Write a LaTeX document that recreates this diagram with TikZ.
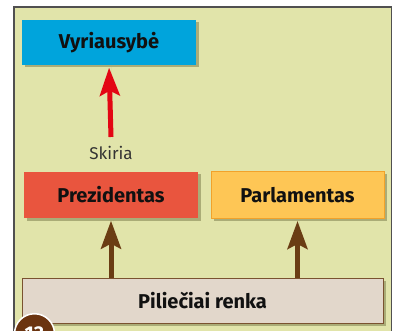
\documentclass[tikz,border=0pt]{standalone}
\usepackage{fontspec}
\setmainfont{Fira Sans}
\usetikzlibrary{arrows.meta,shadows}
\definecolor{framebg}{HTML}{E1E4AA}
\definecolor{framedraw}{HTML}{505050}
\definecolor{vyfill}{HTML}{00A4DC}
\definecolor{prfill}{HTML}{E9553E}
\definecolor{pafill}{HTML}{FEC655}
\definecolor{padraw}{HTML}{F2A22A}
\definecolor{pifill}{HTML}{E2D7CB}
\definecolor{pidraw}{HTML}{7A5230}
\definecolor{shadowc}{HTML}{7E7F4E}
\definecolor{arrred}{HTML}{E30613}
\definecolor{arrbrown}{HTML}{6A3D14}
\definecolor{circbrown}{HTML}{6B3410}
\definecolor{txt}{HTML}{111111}
\tikzset{
  box/.style={rectangle, inner sep=0pt, font=\fontsize{20}{24}\selectfont\bfseries, text=txt,
    drop shadow={shadow xshift=2.5pt, shadow yshift=-2.5pt, fill=shadowc, opacity=0.55}},
  uparrow/.style={line width=5pt, -{Stealth[width=20pt,length=28pt,inset=5pt]}, shorten >=2.5pt,
    drop shadow={shadow xshift=2pt, shadow yshift=-2pt, fill=shadowc, opacity=0.4}},
}
\begin{document}
\begin{tikzpicture}[x=1pt,y=-1pt]
\useasboundingbox (0,0) rectangle (396,331);
\clip (0,0) rectangle (396,331);
\fill[white] (0,0) rectangle (396,331);
\draw[fill=framebg, draw=framedraw, line width=1.6pt] (14,7) rectangle (391.5,345);
\node[box, fill=vyfill, minimum width=174pt, minimum height=45pt] (vy) at (109,42.5) {Vyriausybė};
\node[box, fill=prfill, minimum width=174pt, minimum height=46pt] (pr) at (111,195) {Prezidentas};
\node[box, fill=pafill, draw=padraw, line width=1pt, minimum width=173pt, minimum height=46pt] (pa) at (297.5,195) {Parlamentas};
\node[box, fill=pifill, draw=pidraw, line width=1pt, minimum width=361pt, minimum height=45pt] (pi) at (202.5,300.5) {Piliečiai renka};
\node[font=\fontsize{17}{20}\selectfont, text=black!80, inner sep=0pt] (sk) at (111,153) {Skiria};
\coordinate (skt) at (111,137);
\draw[uparrow, draw=arrred, fill=arrred] (skt) -- (vy.south);
\draw[uparrow, draw=arrbrown, fill=arrbrown] (pi.north -| pr.south) -- (pr.south);
\draw[uparrow, draw=arrbrown, fill=arrbrown] (pi.north -| pa.south) -- (pa.south);
\node[circle, fill=circbrown, draw=white, line width=1.5pt, minimum size=40pt, inner sep=0pt,
  text=white, font=\fontsize{20}{24}\selectfont\bfseries, anchor=north] (num) at (34.5,313) {13};
\end{tikzpicture}
\end{document}
